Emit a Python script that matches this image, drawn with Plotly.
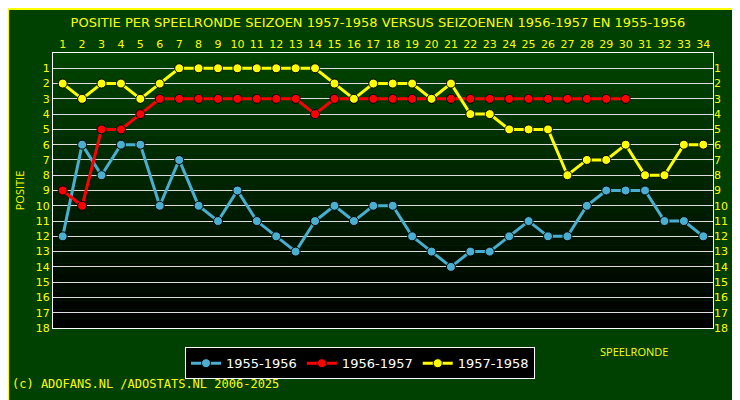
import plotly.graph_objects as go

rounds = list(range(1, 35))
s5556 = [12,6,8,6,6,10,7,10,11,9,11,12,13,11,10,11,10,10,12,13,14,13,13,12,11,12,12,10,9,9,9,11,11,12]
s5657 = [9,10,5,5,4,3,3,3,3,3,3,3,3,4,3,3,3,3,3,3,3,3,3,3,3,3,3,3,3,3]
s5758 = [2,3,2,2,3,2,1,1,1,1,1,1,1,1,2,3,2,2,2,3,2,4,4,5,5,5,8,7,7,6,8,8,6,6]
positions = list(range(1, 19))

fig = go.Figure()
for name, vals, col in [("1955-1956", s5556, "#4aaed0"), ("1956-1957", s5657, "#ff0000"), ("1957-1958", s5758, "#ffff00")]:
    fig.add_trace(go.Scatter(x=rounds[:len(vals)], y=vals, name=name, mode="lines+markers",
                             line=dict(color=col, width=3),
                             marker=dict(color=col, size=9, line=dict(color="black", width=1))))

n = 30
for i in range(n):
    t = i / (n - 1)
    g = int(0x44 * (1 - t))
    fig.add_shape(type="rect", xref="paper", yref="paper", x0=0, x1=1,
                  y0=1 - (i + 1) / n, y1=1 - i / n, fillcolor=f"rgb(0,{g},0)",
                  line=dict(width=0), layer="below")

axfont = dict(color="#ffff00", size=11, family="DejaVu Sans")
fig.update_layout(
    width=740, height=400, margin=dict(l=45, r=35, t=45, b=80, autoexpand=False),
    paper_bgcolor="#004000", plot_bgcolor="rgba(0,0,0,0)",
    title=dict(text="POSITIE PER SPEELRONDE SEIZOEN 1957-1958 VERSUS SEIZOENEN 1956-1957 EN 1955-1956",
               x=0.5, y=0.975, xanchor="center", font=dict(color="#ffff00", size=13, family="DejaVu Sans")),
    showlegend=True,
    legend=dict(orientation="h", x=0.2, y=-0.07, xanchor="left", yanchor="top",
                bgcolor="black", bordercolor="white", borderwidth=1,
                font=dict(color="white", size=13, family="DejaVu Sans")),
    xaxis=dict(range=[0.5, 34.5], tickvals=rounds, tickfont=axfont, showgrid=False, zeroline=False,
               side="top", ticks="", showline=True, linecolor="white", mirror=True, automargin=False),
    yaxis=dict(range=[18, 0], tickvals=positions, tickfont=axfont, gridcolor="#dddddd", gridwidth=1,
               zeroline=False, showline=True, linecolor="white", mirror=True, ticks="", automargin=False,
               title=dict(text="POSITIE", font=dict(color="#ffff00", size=11), standoff=8)),
    yaxis2=dict(range=[18, 0], tickvals=positions, tickfont=axfont, overlaying="y", side="right",
                showgrid=False, zeroline=False, automargin=False),
)
fig.add_trace(go.Scatter(x=[None], y=[None], yaxis="y2", showlegend=False))
fig.add_annotation(text="SPEELRONDE", xref="paper", yref="paper", x=0.935, y=-0.12, showarrow=False,
                   font=dict(color="#ffff00", size=11))
fig.add_annotation(text="(c) ADOFANS.NL /ADOSTATS.NL 2006-2025", xref="paper", yref="paper",
                   x=-0.065, y=-0.235, xanchor="left", showarrow=False,
                   font=dict(color="#ffff00", size=12, family="DejaVu Sans Mono"))
fig.add_shape(type="rect", xref="paper", yref="paper", x0=-0.068, x1=1.05, y0=-0.29, y1=1.16,
              line=dict(color="#ffff00", width=2))
fig.write_html("out.html")
